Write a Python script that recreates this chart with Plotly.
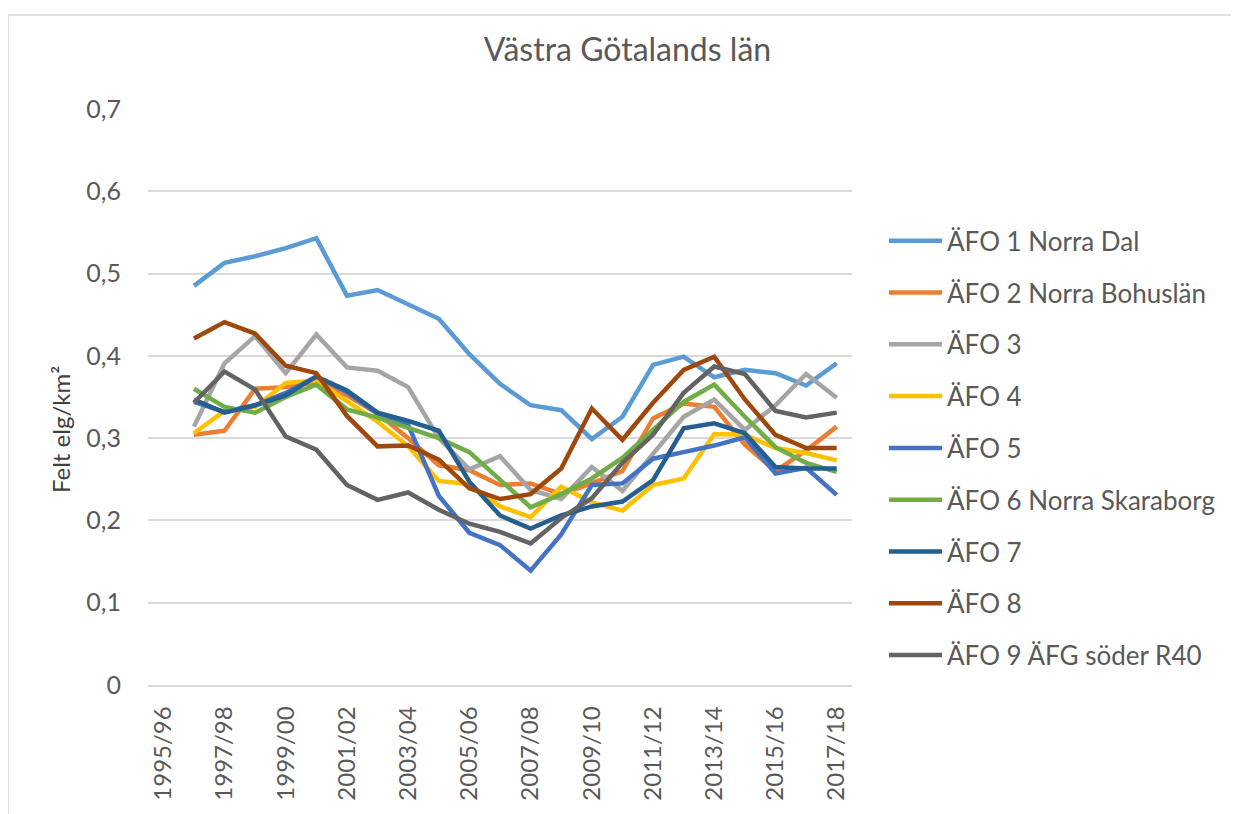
import plotly.graph_objects as go

all_seasons = ["1995/96", "1996/97", "1997/98", "1998/99", "1999/00", "2000/01", "2001/02",
               "2002/03", "2003/04", "2004/05", "2005/06", "2006/07", "2007/08", "2008/09",
               "2009/10", "2010/11", "2011/12", "2012/13", "2013/14", "2014/15", "2015/16",
               "2016/17", "2017/18"]
seasons = all_seasons[1:]
tick_labels = all_seasons[::2]

afo1 = [0.485, 0.513, 0.521, 0.531, 0.543, 0.473, 0.480, 0.463, 0.445, 0.402, 0.366, 0.340,
        0.334, 0.299, 0.326, 0.389, 0.399, 0.374, 0.383, 0.379, 0.364, 0.391]
afo2 = [0.304, 0.309, 0.360, 0.362, 0.368, 0.352, 0.330, 0.300, 0.267, 0.261, 0.243, 0.245,
        0.232, 0.245, 0.260, 0.324, 0.342, 0.338, 0.292, 0.260, 0.285, 0.314]
afo3 = [0.314, 0.391, 0.424, 0.379, 0.426, 0.386, 0.382, 0.362, 0.300, 0.262, 0.278, 0.237,
        0.226, 0.265, 0.236, 0.280, 0.326, 0.347, 0.310, 0.340, 0.378, 0.349]
afo4 = [0.306, 0.333, 0.338, 0.367, 0.370, 0.345, 0.320, 0.290, 0.248, 0.244, 0.217, 0.204,
        0.241, 0.222, 0.212, 0.243, 0.251, 0.305, 0.304, 0.288, 0.282, 0.273]
afo5 = [0.344, 0.332, 0.340, 0.355, 0.375, 0.356, 0.330, 0.316, 0.230, 0.185, 0.170, 0.139,
        0.183, 0.243, 0.245, 0.275, 0.283, 0.291, 0.301, 0.257, 0.264, 0.231]
afo6 = [0.360, 0.338, 0.331, 0.350, 0.365, 0.335, 0.325, 0.312, 0.300, 0.283, 0.249, 0.216,
        0.232, 0.251, 0.276, 0.310, 0.344, 0.365, 0.326, 0.289, 0.270, 0.259]
afo7 = [0.347, 0.331, 0.340, 0.352, 0.375, 0.358, 0.331, 0.321, 0.309, 0.247, 0.206, 0.190,
        0.206, 0.217, 0.223, 0.249, 0.312, 0.318, 0.306, 0.265, 0.263, 0.263]
afo8 = [0.421, 0.441, 0.427, 0.388, 0.379, 0.327, 0.290, 0.291, 0.274, 0.239, 0.226, 0.232,
        0.263, 0.336, 0.298, 0.343, 0.383, 0.399, 0.347, 0.304, 0.288, 0.288]
afo9 = [0.343, 0.381, 0.359, 0.302, 0.286, 0.243, 0.225, 0.234, 0.213, 0.196, 0.186, 0.172,
        0.203, 0.227, 0.270, 0.304, 0.355, 0.387, 0.378, 0.333, 0.325, 0.331]

names = ["ÄFO 1 Norra Dal", "ÄFO 2 Norra Bohuslän", "ÄFO 3", "ÄFO 4", "ÄFO 5",
         "ÄFO 6 Norra Skaraborg", "ÄFO 7", "ÄFO 8", "ÄFO 9 ÄFG söder R40"]
series = [afo1, afo2, afo3, afo4, afo5, afo6, afo7, afo8, afo9]
colors = ["#5B9BD5", "#ED7D31", "#A5A5A5", "#FFC000", "#4472C4", "#70AD47",
          "#255E91", "#9E480E", "#636363"]

y_ticks = [0, 0.1, 0.2, 0.3, 0.4, 0.5, 0.6, 0.7]
y_ticktext = ["0", "0,1", "0,2", "0,3", "0,4", "0,5", "0,6", "0,7"]

FONT = "Lato"
TXT = "#595959"

fig = go.Figure()
for i, (n, s, c) in enumerate(zip(names, series, colors)):
    fig.add_trace(go.Scatter(x=seasons, y=s, name=n, mode="lines",
                             line=dict(color=c, width=4.5),
                             legendgroup=f"g{i}"))

# page has an 8px body margin; plot area at page x 148..852, y 109..685
fig.update_layout(
    width=1239, height=814,
    margin=dict(l=140, r=395, t=101, b=137),
    paper_bgcolor="white", plot_bgcolor="white",
    font=dict(family=FONT, color=TXT),
    title=dict(text="Västra Götalands län", x=0.5, xanchor="center",
               y=1 - 42 / 814, yanchor="middle",
               font=dict(size=32, color=TXT, family=FONT)),
    xaxis=dict(type="category", categoryorder="array", categoryarray=all_seasons,
               range=[-0.5, len(all_seasons) - 0.5],
               tickmode="array", tickvals=tick_labels, ticktext=tick_labels,
               tickangle=-90, tickfont=dict(size=24, color=TXT),
               showgrid=False, showline=True, linecolor="#D9D9D9", linewidth=1.5,
               ticks="", zeroline=False, ticklabelstandoff=10),
    yaxis=dict(range=[0, 0.7], tickmode="array", tickvals=y_ticks, ticktext=y_ticktext,
               tickfont=dict(size=25, color=TXT), showgrid=True, gridcolor="#D9D9D9",
               gridwidth=1.5, zeroline=False, showline=False, ticks="", ticklabelstandoff=26),
    legend=dict(x=(884 - 148) / 704, y=0.812, xanchor="left", yanchor="top",
                font=dict(size=26, color=TXT, family=FONT),
                tracegroupgap=15, itemwidth=53, bgcolor="rgba(0,0,0,0)"),
    showlegend=True,
)

fig.add_annotation(text="Felt elg/km²", textangle=-90, xref="paper", yref="paper",
                   x=(60 - 148) / 704, y=(685 - 430) / 576, xanchor="center", yanchor="middle",
                   showarrow=False, font=dict(size=24, color="#404040", family=FONT))

fig.add_shape(type="rect", xref="paper", yref="paper",
              x0=(8 - 148) / 704, x1=(1250 - 148) / 704,
              y0=(685 - 830) / 576, y1=(685 - 15) / 576,
              line=dict(color="#D9D9D9", width=1.5), fillcolor="rgba(0,0,0,0)", layer="below")

fig.write_html("out.html")
